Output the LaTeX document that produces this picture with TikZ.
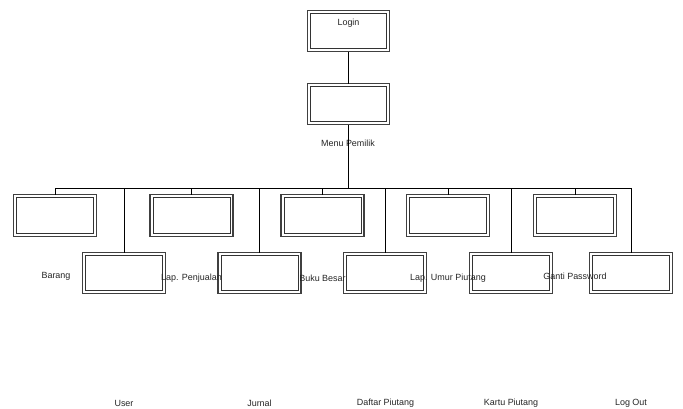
\documentclass[tikz,border=0pt]{standalone}
\usepackage{fontspec}
\setmainfont{Liberation Sans}
\begin{document}
\begin{tikzpicture}[x=1bp,y=-1bp,
  box/.style={draw=black!75, line width=1.1bp,
              inner sep=0pt, outer sep=0pt, minimum width=83bp, minimum height=41bp},
  tbox/.style={box, minimum height=42bp},
  inner/.style={draw=black!80, line width=0.9bp},
  lbl/.style={inner sep=0pt, font=\fontsize{9}{10}\selectfont, text=black!85},
  conn/.style={draw=black, line width=0.6pt},
  main/.style={draw=black, line width=0.9pt}]
\useasboundingbox (0,0) rectangle (683,408);
% top
\node[box, minimum width=82bp] (login) at (348.5,31) {};
\node[lbl] (logint) at (348.5,23) {Login};
\node[box, minimum width=82bp] (menu) at (348.5,104) {};
\node[lbl] (menut) at (348,143.5) {Menu Pemilik};
% bus
\coordinate (busL) at (55,188.5);
\coordinate (busR) at (632,188.5);
% first row
\node[tbox] (t1) at (55,215.5) {};
\node[tbox] (t2) at (191.5,215.5) {};
\node[tbox] (t3) at (322.5,215.5) {};
\node[tbox] (t4) at (448,215.5) {};
\node[tbox] (t5) at (575,215.5) {};
% second row
\node[box] (b1) at (124,273) {};
\node[box] (b2) at (259.5,273) {};
\node[box] (b3) at (385,273) {};
\node[box] (b4) at (511,273) {};
\node[box] (b5) at (631,273) {};
% inner lines of double borders
\foreach \n in {login,menu,t1,t2,t3,t4,t5,b1,b2,b3,b4,b5}
  {\draw[inner] ([shift={(3,3)}]\n.north west) rectangle ([shift={(-3,-3)}]\n.south east);}
% labels
\node[lbl] (l1) at (56,276.5) {Barang};
\node[lbl] (l2) at (191.5,278) {Lap. Penjualan};
\node[lbl] (l3) at (322.5,278) {Buku Besar};
\node[lbl] (l4) at (448,278) {Lap. Umur Piutang};
\node[lbl] (l5) at (575,276.5) {Ganti Password};
\node[lbl] (m1) at (124,403) {User};
\node[lbl] (m2) at (259.5,403) {Jurnal};
\node[lbl] (m3) at (385.5,403) {Daftar Piutang};
\node[lbl] (m4) at (511,403) {Kartu Piutang};
\node[lbl] (m5) at (631,403) {Log Out};
% connectors
\draw[main] (login.south) -- (menu.north);
\draw[main] (menu.south) -- (menu.south |- busL);
\draw[conn] (busL) -- (busR);
\foreach \n in {t1,t2,t3,t4,t5} {\draw[conn] (\n.north) -- (\n.north |- busL);}
\foreach \n in {b1,b2,b3,b4,b5} {\draw[conn] (\n.north) -- (\n.north |- busL);}
\end{tikzpicture}
\end{document}
